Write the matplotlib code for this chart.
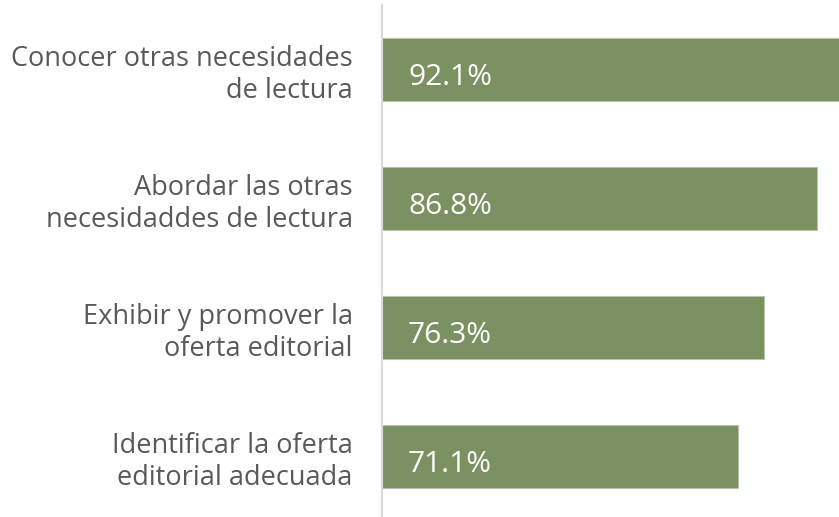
import matplotlib
matplotlib.use("Agg")
import matplotlib.pyplot as plt

categories = [
    "Conocer otras necesidades\nde lectura",
    "Abordar las otras\nnecesidaddes de lectura",
    "Exhibir y promover la\noferta editorial",
    "Identificar la oferta\neditorial adecuada",
]
values = [92.1, 86.8, 76.3, 71.1]
labels = ["92.1%", "86.8%", "76.3%", "71.1%"]

BAR = "#7b9162"
TEXT = "#595959"

plt.rcParams["font.family"] = ["Open Sans", "DejaVu Sans"]

fig = plt.figure(figsize=(8.39, 5.17), dpi=100)
ax = fig.add_axes([382 / 839, -4 / 517, 1 - 382 / 839, 516 / 517])

ypos = list(range(len(values)))
ax.barh(ypos, values, height=0.49, color=BAR, edgecolor="#b8c4aa", linewidth=0.8)
ax.set_ylim(3.5, -0.5)
ax.set_xlim(0, 91.25)

for y, lab in zip(ypos, labels):
    ax.text(5.2, y + 0.065, lab, color="white", fontsize=21.5,
            ha="left", va="center")

ax.set_yticks(ypos)
ax.set_yticklabels(categories, fontsize=19.5, color=TEXT,
                   ha="right", multialignment="right", linespacing=1.18)
ax.tick_params(axis="y", length=0, pad=21)
ax.set_xticks([])
for s in ["top", "right", "bottom"]:
    ax.spines[s].set_visible(False)
ax.spines["left"].set_color("#d9d9d9")
ax.spines["left"].set_linewidth(1.5)

fig.savefig("out.png", dpi=100)
